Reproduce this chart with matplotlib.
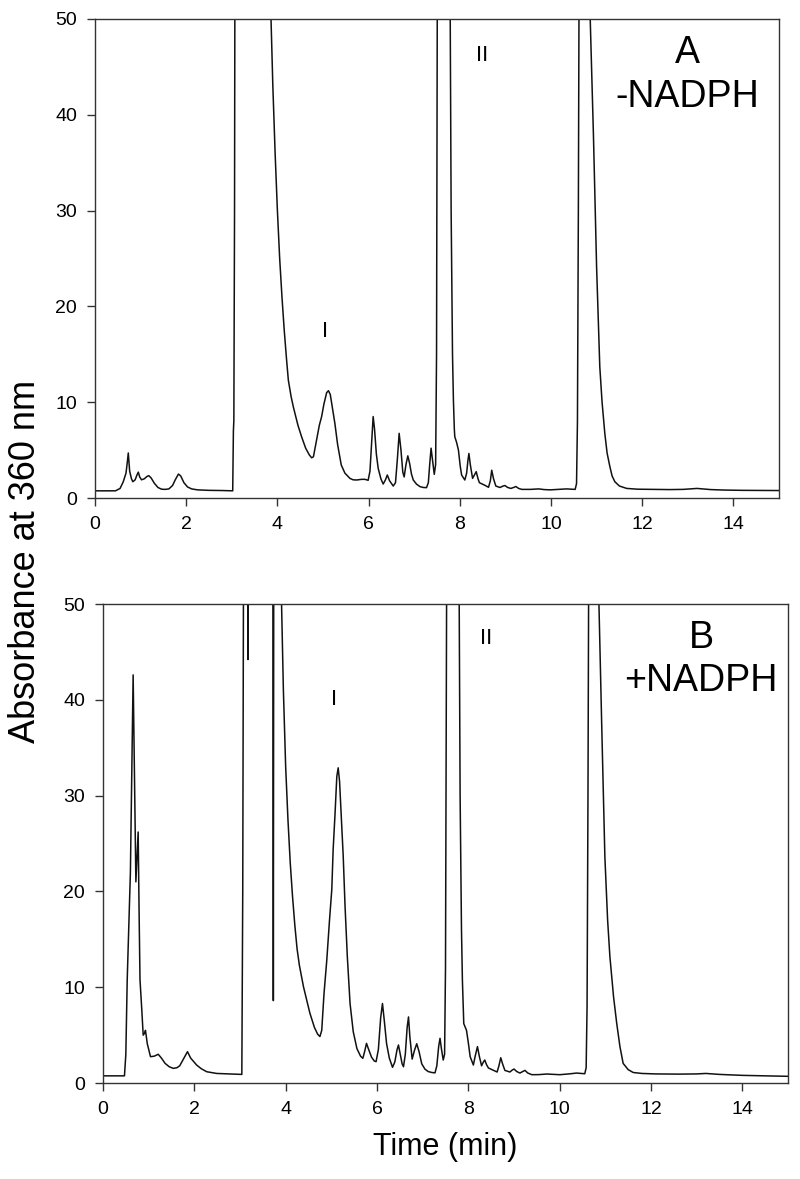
import matplotlib
matplotlib.use("Agg")
import matplotlib.pyplot as plt

plt.rcParams['font.family'] = ['Liberation Sans', 'DejaVu Sans']

# ---- data (time in min, absorbance at 360 nm) ----
time_A = [0.0, 0.45, 0.55, 0.62, 0.68, 0.71, 0.73, 0.76, 0.80, 0.83, 0.88, 0.92, 0.95, 0.98, 1.02,
          1.08, 1.14, 1.18, 1.23, 1.30, 1.38, 1.46, 1.54, 1.62, 1.70, 1.76, 1.83, 1.88, 1.95, 2.03,
          2.12, 2.25, 2.5, 2.8, 3.02, 3.035, 3.045, 3.06, 3.07, 3.84, 3.86, 3.90, 3.95, 4.00, 4.05,
          4.10, 4.15, 4.20, 4.24, 4.30, 4.35, 4.45, 4.53, 4.62, 4.70, 4.75, 4.79, 4.85, 4.92, 4.97,
          5.02, 5.08, 5.12, 5.16, 5.22, 5.26, 5.32, 5.40, 5.48, 5.59, 5.66, 5.74, 5.85, 5.92, 5.99,
          6.03, 6.07, 6.10, 6.13, 6.17, 6.21, 6.27, 6.32, 6.37, 6.41, 6.46, 6.54, 6.59, 6.63, 6.67,
          6.71, 6.75, 6.78, 6.82, 6.86, 6.90, 6.94, 6.98, 7.05, 7.13, 7.20, 7.27, 7.31, 7.34, 7.37,
          7.40, 7.44, 7.47, 7.49, 7.51, 7.77, 7.79, 7.81, 7.84, 7.86, 7.88, 7.89, 7.93, 7.97, 8.01,
          8.04, 8.11, 8.15, 8.18, 8.20, 8.23, 8.28, 8.32, 8.36, 8.40, 8.43, 8.54, 8.63, 8.67, 8.70,
          8.74, 8.79, 8.88, 8.95, 8.99, 9.05, 9.12, 9.18, 9.23, 9.29, 9.36, 9.55, 9.73, 9.85, 9.98,
          10.15, 10.34, 10.45, 10.53, 10.56, 10.58, 10.60, 10.62, 10.84, 10.86, 10.93, 11.00, 11.07,
          11.12, 11.18, 11.23, 11.29, 11.34, 11.40, 11.50, 11.66, 11.9, 12.2, 12.6, 12.9, 13.2, 13.5,
          13.8, 14.2, 14.6, 15.0]
abs_A = [0.75, 0.75, 1.0, 1.7, 2.6, 3.8, 4.7, 2.8, 2.0, 1.7, 1.9, 2.4, 2.7, 2.2, 1.9,
         2.0, 2.25, 2.33, 2.1, 1.55, 1.1, 0.92, 0.9, 0.95, 1.3, 1.9, 2.5, 2.3, 1.6, 1.15,
         0.95, 0.85, 0.8, 0.78, 0.75, 7.0, 8.1, 30, 60, 60, 50, 43, 36, 30, 25,
         21, 17.5, 14.5, 12.3, 10.6, 9.5, 7.6, 6.4, 5.2, 4.5, 4.2, 4.3, 5.8, 7.6, 8.5,
         9.8, 11.0, 11.2, 10.8, 9.0, 7.8, 5.6, 3.45, 2.6, 2.05, 1.9, 1.88, 1.95, 1.95, 1.85,
         2.8, 6.0, 8.5, 7.2, 4.6, 3.1, 2.0, 1.46, 1.9, 2.4, 1.8, 1.25, 1.6, 4.0, 6.75,
         5.0, 2.7, 2.2, 3.5, 4.4, 3.6, 2.5, 1.88, 1.45, 1.18, 1.1, 1.08, 1.6, 3.5, 5.2,
         4.0, 2.47, 3.5, 15, 60, 60, 50, 30, 15, 10.2, 7.2, 6.4, 5.8, 5.0, 3.3,
         2.4, 1.88, 2.6, 4.0, 4.65, 3.5, 2.05, 2.4, 2.75, 2.0, 1.6, 1.35, 1.12, 1.8, 2.9,
         2.0, 1.25, 1.1, 1.25, 1.3, 1.1, 1.0, 1.1, 1.2, 1.0, 0.9, 0.9, 0.95, 0.88, 0.85,
         0.9, 0.95, 0.92, 0.9, 1.5, 8, 30, 60, 60, 50, 38, 24.1, 13.7,
         10.0, 6.75, 4.7, 3.3, 2.3, 1.7, 1.25, 1.0, 0.92, 0.9, 0.88, 0.9, 1.0, 0.88,
         0.83, 0.8, 0.79, 0.78]

time_B = [0.0, 0.47, 0.50, 0.53, 0.56, 0.60, 0.63, 0.66, 0.69, 0.72, 0.75, 0.77, 0.79, 0.81, 0.85,
          0.88, 0.91, 0.93, 0.97, 1.04, 1.12, 1.21, 1.28, 1.36, 1.45, 1.54, 1.62, 1.68, 1.76, 1.85,
          1.92, 2.05, 2.15, 2.27, 2.49, 2.75, 3.04, 3.06, 3.08, 3.16, 3.175, 3.19, 3.72, 3.73, 3.74,
          3.89, 3.91, 3.95, 4.00, 4.05, 4.10, 4.15, 4.20, 4.25, 4.30, 4.39, 4.53, 4.63, 4.70, 4.75,
          4.79, 4.84, 4.90, 4.96, 5.01, 5.04, 5.08, 5.12, 5.15, 5.18, 5.22, 5.26, 5.30, 5.35, 5.41,
          5.48, 5.56, 5.64, 5.69, 5.73, 5.77, 5.81, 5.88, 5.94, 5.98, 6.03, 6.08, 6.12, 6.16, 6.21,
          6.27, 6.34, 6.39, 6.44, 6.47, 6.51, 6.55, 6.58, 6.62, 6.66, 6.69, 6.72, 6.77, 6.82, 6.87,
          6.92, 6.98, 7.05, 7.12, 7.20, 7.27, 7.31, 7.35, 7.38, 7.41, 7.45, 7.48, 7.50, 7.53, 7.78,
          7.80, 7.82, 7.85, 7.87, 7.90, 7.96, 8.00, 8.04, 8.11, 8.15, 8.20, 8.24, 8.29, 8.33, 8.36,
          8.40, 8.44, 8.55, 8.63, 8.67, 8.71, 8.75, 8.80, 8.91, 8.96, 9.00, 9.06, 9.13, 9.19, 9.24,
          9.30, 9.39, 9.55, 9.72, 9.86, 10.00, 10.2, 10.37, 10.47, 10.55, 10.58, 10.60, 10.62, 10.64,
          10.84, 10.86, 10.92, 10.99, 11.05, 11.10, 11.18, 11.25, 11.32, 11.39, 11.50, 11.61, 11.8,
          12.1, 12.6, 13.0, 13.2, 13.5, 14.0, 14.5, 15.0]
abs_B = [0.75, 0.75, 3.0, 10.75, 15.5, 22, 32, 42.6, 32, 21.0, 24, 26.2, 18, 10.8, 7.6,
         5.0, 5.2, 5.5, 4.1, 2.75, 2.8, 3.0, 2.6, 2.05, 1.7, 1.53, 1.6, 1.8, 2.5, 3.27,
         2.6, 1.88, 1.5, 1.18, 1.0, 0.95, 0.9, 20, 60, 60, 44.2, 60, 60, 8.6, 60,
         60, 50, 41, 33, 27.5, 23, 19.5, 16.5, 14.0, 12.3, 10.05, 7.3, 5.8, 5.1, 4.85,
         5.5, 9.35, 12.8, 17, 20.2, 24.4, 28, 32, 32.9, 31.5, 27.5, 23.7, 18.5, 13.2, 8.3,
         5.35, 3.6, 2.8, 2.58, 3.3, 4.14, 3.6, 2.7, 2.3, 2.23, 3.5, 6.8, 8.3, 6.5, 4.1,
         2.6, 1.64, 2.2, 3.5, 3.97, 3.0, 2.0, 1.7, 3.0, 5.8, 6.9, 4.8, 2.5, 3.4, 4.1,
         3.3, 2.0, 1.45, 1.2, 1.1, 1.06, 1.8, 3.8, 4.67, 3.6, 2.4, 3.0, 12, 60, 60,
         50, 30, 16, 10.75, 6.2, 5.5, 4.2, 2.75, 1.88, 2.8, 3.8, 2.8, 1.8, 2.2, 2.4,
         1.9, 1.57, 1.32, 1.15, 1.8, 2.64, 2.0, 1.32, 1.15, 1.35, 1.46, 1.2, 1.04, 1.2, 1.32,
         1.05, 0.87, 0.88, 0.94, 0.9, 0.87, 0.95, 1.04, 1.0, 0.97, 1.6, 8, 30, 60,
         60, 50, 37.5, 23.6, 17, 13.2, 9.0, 6.2, 3.8, 2.05, 1.4, 1.1, 1.0,
         0.95, 0.93, 0.95, 1.0, 0.9, 0.8, 0.75, 0.7]

x_ticks = [0, 2, 4, 6, 8, 10, 12, 14]
y_ticks = [0, 10, 20, 30, 40, 50]

panels = [
    dict(t=time_A, a=abs_A, rect=[0.11875, 0.5776, 0.855, 0.4063],
         letter="A", cond="-NADPH", letter_xy=(13.0, 46.5), cond_xy=(12.98, 41.9),
         peakI=(5.05, 17.4), peakII=(8.5, 46.2)),
    dict(t=time_B, a=abs_B, rect=[0.12875, 0.0814, 0.85625, 0.4063],
         letter="B", cond="+NADPH", letter_xy=(13.1, 46.4), cond_xy=(13.1, 42.0),
         peakI=(5.05, 40.0), peakII=(8.4, 46.4)),
]

fig = plt.figure(figsize=(8, 11.79), dpi=100)
ink = '#111111'
for p in panels:
    ax = fig.add_axes(p["rect"])
    ax.plot(p["t"], p["a"], color=ink, lw=1.1)
    ax.set_xlim(0, 15)
    ax.set_ylim(0, 50)
    ax.set_xticks(x_ticks)
    ax.set_yticks(y_ticks)
    for s in ax.spines.values():
        s.set_color('#333333')
        s.set_linewidth(1.0)
    ax.tick_params(direction='out', length=6, width=1.0, color='#333333',
                   labelsize=14, pad=7)
    ax.text(*p["letter_xy"], p["letter"], fontsize=27, ha='center', va='center')
    ax.text(*p["cond_xy"], p["cond"], fontsize=27, ha='center', va='center')
    ax.text(*p["peakI"], "I", fontsize=16, ha='center', va='center')
    ax.text(*p["peakII"], "II", fontsize=16, ha='center', va='center')

fig.text(0.032, 0.524, "Absorbance at 360 nm", rotation=90, fontsize=26,
         ha='center', va='center')
fig.text(0.556, 0.027, "Time (min)", fontsize=22, ha='center', va='center')

fig.savefig("out.png", dpi=100)
